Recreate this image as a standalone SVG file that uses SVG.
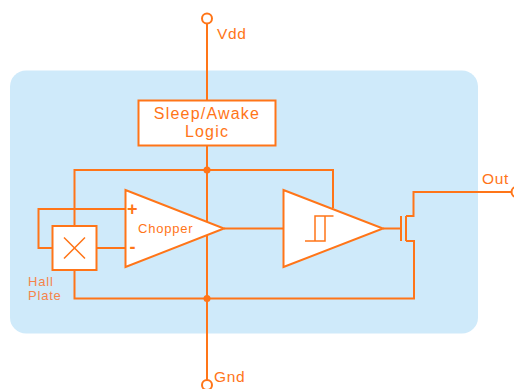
<svg xmlns="http://www.w3.org/2000/svg" width="514" height="389" viewBox="0 0 514 389">
<style>
.w{fill:none;stroke:#ff7518;stroke-width:2}
.t{fill:#fff;stroke:#ff7518;stroke-width:2}
.thin{fill:none;stroke:#ff7518;stroke-width:1.500}
.d{fill:#ff7518}
text{font-family:"Liberation Sans",Arial,sans-serif;fill:#ff7518;letter-spacing:.8px}
.big{font-size:16px;letter-spacing:1.200px;text-anchor:middle}
.pin{font-size:15.500px;letter-spacing:.6px}
.small{font-size:13px}
.hall{fill:#f5844a}
.sign{font-size:18px;font-weight:bold;letter-spacing:0}
</style>
<rect x="0" y="0" width="514" height="389" fill="#fff"/>
<rect id="panel" x="10" y="70.500" width="468" height="263" rx="16" fill="#cfeafa"/>
<g id="connectors">
<path class="w" d="M207 23.500V100M207 145.500V380"/>
<path class="w" d="M207 170H74.500V226M207 170H333V208"/>
<path class="w" d="M125.500 209H38.500V248H52.500M96.500 248H125.500"/>
<path class="w" d="M74.500 270V298.500H414V241H406"/>
<path class="w" d="M224 228.500H283.500M383 228.500H401"/>
<path class="w" d="M406 216H413.500V192H512"/>
<circle class="d" cx="207" cy="170" r="3.500"/>
<circle class="d" cx="207" cy="298.500" r="3.500"/>
</g>
<g id="vdd"><circle cx="207" cy="18.500" r="5" fill="#fff" stroke="#ff7518" stroke-width="2"/><text class="pin" x="217" y="39">Vdd</text></g>
<g id="gnd"><circle cx="207" cy="385" r="5" fill="#fff" stroke="#ff7518" stroke-width="2"/><text class="pin" x="214" y="382">Gnd</text></g>
<g id="out"><circle cx="516.500" cy="192" r="5" fill="#fff" stroke="#ff7518" stroke-width="2"/><text class="pin" x="482" y="184">Out</text></g>
<g id="logic"><rect class="t" x="138.500" y="100.500" width="137" height="45"/><text class="big" x="207" y="119">Sleep/Awake</text><text class="big" x="207" y="137">Logic</text></g>
<g id="hall"><rect class="t" x="52.500" y="226" width="44" height="44"/><path class="thin" d="M64 237.500L85 258.500M85 237.500L64 258.500"/><text class="small hall" x="28" y="285.500">Hall</text><text class="small hall" x="28" y="300">Plate</text></g>
<g id="chopper"><path class="t" d="M125.500 190V267L224 228.500Z"/><text class="small" x="138" y="233">Chopper</text><text class="sign" x="127" y="215">+</text><text class="sign" x="129.500" y="253">-</text></g>
<g id="schmitt"><path class="t" d="M283.500 190V267L383 228.500Z"/><path class="thin" d="M305 241H325V216M333.500 216H315V241"/></g>
<g id="mosfet"><path class="w" d="M401 216V241"/><path class="w" d="M406 216V241"/></g>
</svg>
